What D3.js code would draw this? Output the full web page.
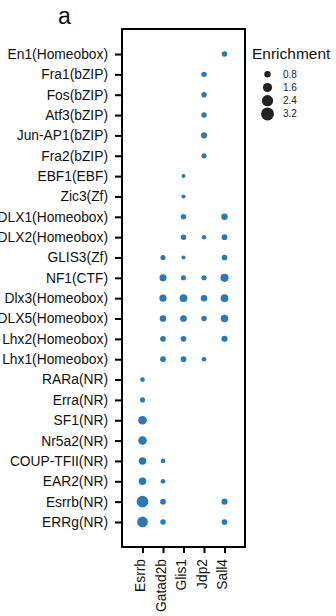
<!DOCTYPE html>
<html>
<head>
<meta charset="utf-8">
<script src="https://cdn.jsdelivr.net/npm/d3@7"></script>
<style>
  body { margin: 0; background: #fff; }
  text { font-family: "Liberation Sans", Arial, Helvetica, sans-serif; }
</style>
</head>
<body>
<div id="chart"></div>
<script>
// motifs, top to bottom
var motifs = [
  "En1(Homeobox)", "Fra1(bZIP)", "Fos(bZIP)", "Atf3(bZIP)", "Jun-AP1(bZIP)",
  "Fra2(bZIP)", "EBF1(EBF)", "Zic3(Zf)", "DLX1(Homeobox)", "DLX2(Homeobox)",
  "GLIS3(Zf)", "NF1(CTF)", "Dlx3(Homeobox)", "DLX5(Homeobox)", "Lhx2(Homeobox)",
  "Lhx1(Homeobox)", "RARa(NR)", "Erra(NR)", "SF1(NR)", "Nr5a2(NR)",
  "COUP-TFII(NR)", "EAR2(NR)", "Esrrb(NR)", "ERRg(NR)"
];
var samples = ["Esrrb", "Gatad2b", "Glis1", "Jdp2", "Sall4"];

// enrichment per sample, same order as motifs (null = no dot)
var esrrbVals   = [null, null, null, null, null, null, null, null, null, null, null, null,
                   null, null, null, null, 0.41, 0.49, 1.44, 1.38, 1.07, 1.07, 2.54, 2.2];
var gatad2bVals = [null, null, null, null, null, null, null, null, null, null, 0.49, 0.96,
                   0.96, 0.85, 0.61, 0.61, null, null, null, null, 0.41, 0.41, 0.61, 0.57];
var glis1Vals   = [null, null, null, null, null, null, 0.31, 0.31, 0.57, 0.57, 0.31, 0.49,
                   1.13, 0.85, 0.61, 0.61, null, null, null, null, null, null, null, null];
var jdp2Vals    = [null, 0.57, 0.57, 0.57, 0.7, 0.49, null, null, null, 0.38, null, 0.49,
                   0.8, 0.57, null, 0.41, null, null, null, null, null, null, null, null];
var sall4Vals   = [0.57, null, null, null, null, null, null, null, 0.8, 0.61, 0.61, 1.25,
                   1.13, 1.07, 0.7, null, null, null, null, null, null, null, 0.7, 0.61];

var legendVals = [0.8, 1.6, 2.4, 3.2];

var width = 336, height = 616;
var margin = { top: 29, right: 91, bottom: 69, left: 122 };
var dotColor = "#2b78b3";

var svg = d3.select("#chart").append("svg")
  .attr("width", width)
  .attr("height", height);

var colVals = [esrrbVals, gatad2bVals, glis1Vals, jdp2Vals, sall4Vals];
var points = [];
samples.forEach(function (s, j) {
  colVals[j].forEach(function (v, i) {
    if (v != null) points.push({ sample: s, motif: motifs[i], value: v });
  });
});

var x = d3.scalePoint()
  .domain(samples)
  .range([margin.left, width - margin.right])
  .padding(1);

var y = d3.scalePoint()
  .domain(motifs)
  .range([margin.top, height - margin.bottom])
  .padding(1.23);

var r = d3.scaleSqrt().domain([0, 3.2]).range([0, 6.5]);

// y axis
var yAxis = svg.append("g")
  .attr("transform", "translate(" + margin.left + ",0)")
  .call(d3.axisLeft(y).tickSize(7).tickPadding(7));
yAxis.select(".domain").remove();
yAxis.selectAll("line").attr("stroke", "#000").attr("stroke-width", 2);
yAxis.selectAll("text")
  .attr("fill", "#111")
  .style("font-size", "13.8px");

// x axis
var xAxis = svg.append("g")
  .attr("transform", "translate(0," + (height - margin.bottom) + ")")
  .call(d3.axisBottom(x).tickSize(6));
xAxis.select(".domain").remove();
xAxis.selectAll("line").attr("stroke", "#000").attr("stroke-width", 2);
xAxis.selectAll("text")
  .attr("fill", "#111")
  .style("font-size", "13.8px")
  .style("text-anchor", "end")
  .attr("transform", "rotate(-90)")
  .attr("x", -12)
  .attr("y", 0)
  .attr("dy", "0.15em");

// frame
svg.append("rect")
  .attr("x", margin.left)
  .attr("y", margin.top)
  .attr("width", width - margin.left - margin.right)
  .attr("height", height - margin.top - margin.bottom)
  .attr("fill", "none")
  .attr("stroke", "#000")
  .attr("stroke-width", 2);

// dots
svg.selectAll(".dot")
  .data(points)
  .enter()
  .append("circle")
  .attr("class", "dot")
  .attr("cx", function (d) { return x(d.sample); })
  .attr("cy", function (d) { return y(d.motif); })
  .attr("r", function (d) { return r(d.value); })
  .attr("fill", dotColor);

// panel letter
svg.append("text")
  .attr("x", 58)
  .attr("y", 24)
  .style("font-size", "23px")
  .attr("fill", "#111")
  .text("a");

// size legend
var legend = svg.append("g").attr("transform", "translate(252,0)");
legend.append("text")
  .attr("x", 0)
  .attr("y", 58.5)
  .style("font-size", "15.5px")
  .attr("fill", "#111")
  .text("Enrichment");

var item = legend.selectAll(".leg")
  .data(legendVals)
  .enter()
  .append("g")
  .attr("class", "leg")
  .attr("transform", function (d, i) { return "translate(0," + (74.3 + i * 13.2) + ")"; });
item.append("circle")
  .attr("cx", 15.5)
  .attr("cy", 0)
  .attr("r", function (d) { return r(d); })
  .attr("fill", "#222");
item.append("text")
  .attr("x", 31)
  .attr("dy", "0.35em")
  .style("font-size", "10px")
  .attr("fill", "#222")
  .text(function (d) { return d.toFixed(1); });
</script>
</body>
</html>
